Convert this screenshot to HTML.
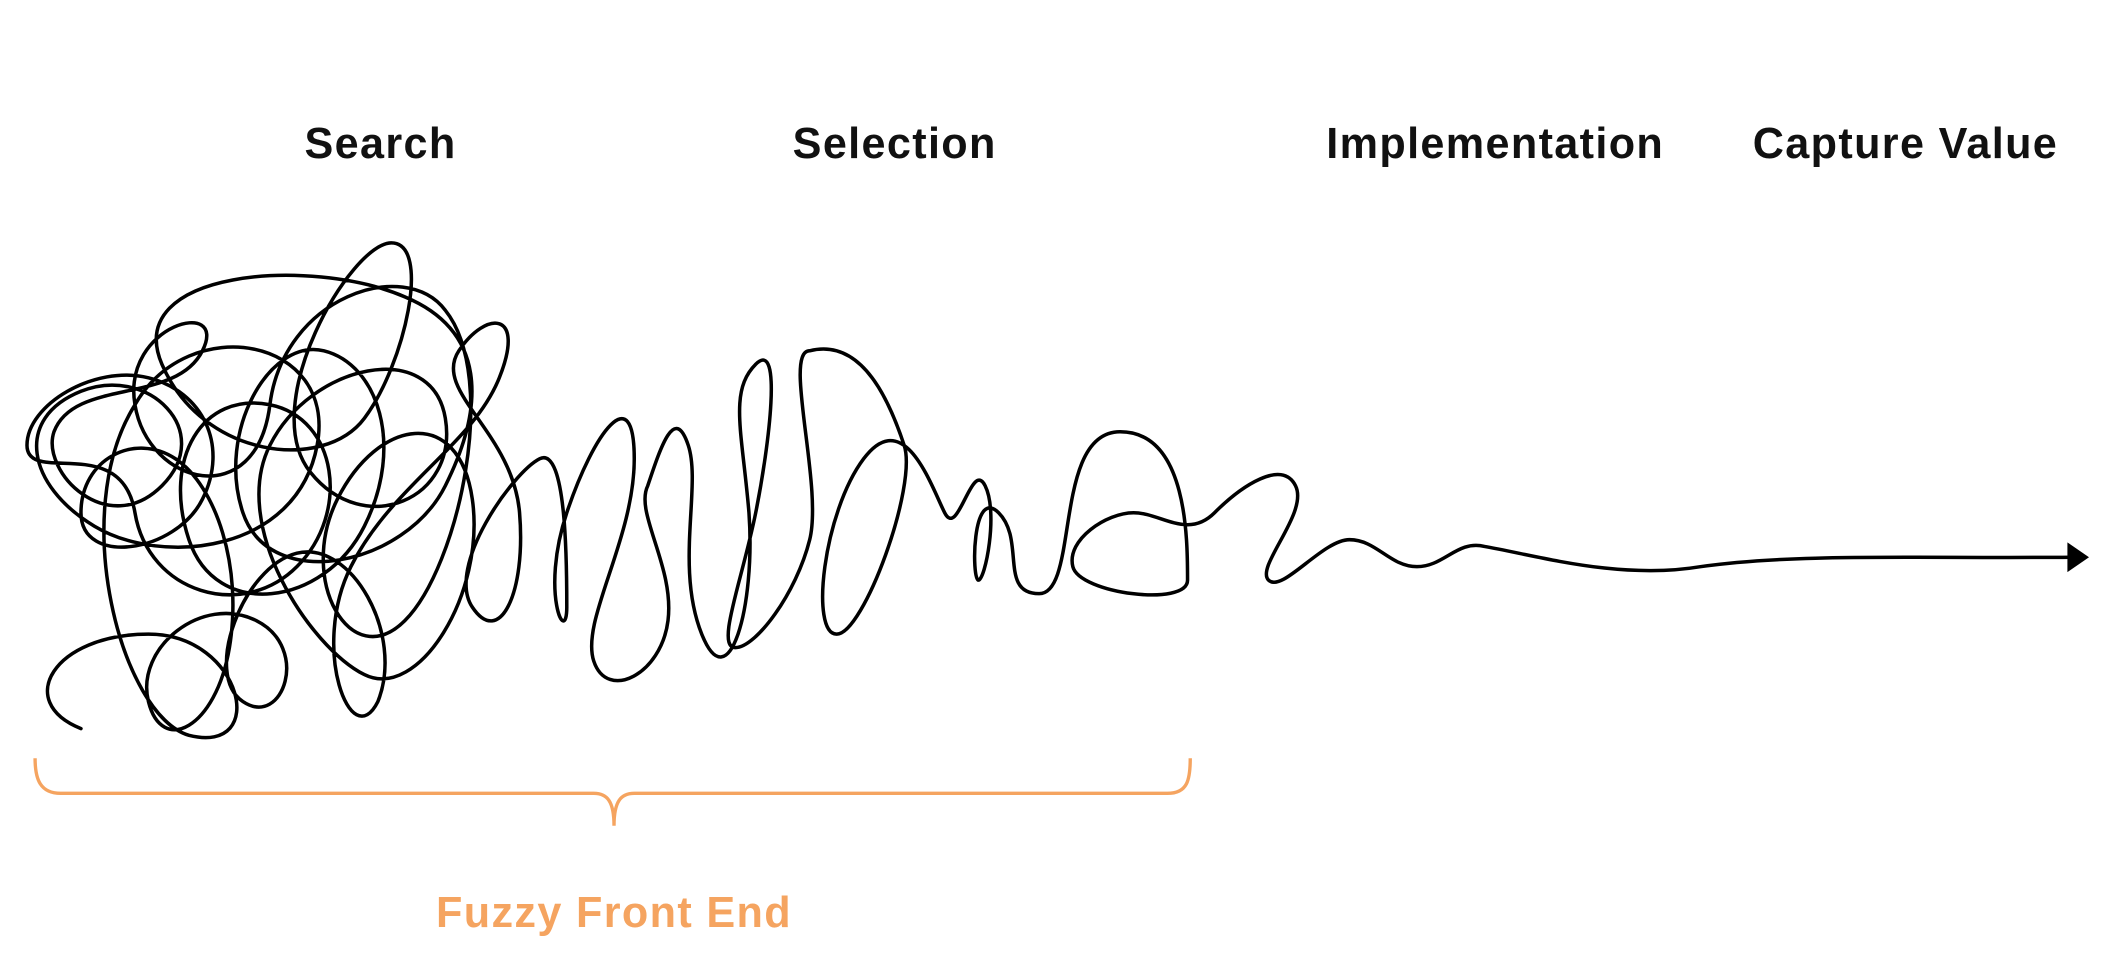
<!DOCTYPE html>
<html><head><meta charset="utf-8"><style>
html,body{margin:0;padding:0;background:#fff;}
body{width:2116px;height:962px;overflow:hidden;}
svg{display:block}
</style></head><body>
<svg width="2116" height="962" viewBox="0 0 1568 713" preserveAspectRatio="none">
<g font-family="Liberation Sans, sans-serif" font-weight="bold" font-size="32" letter-spacing="1" text-anchor="middle" fill="#111">
<text x="282" y="117">Search</text>
<text x="663" y="117">Selection</text>
<text x="1108" y="117">Implementation</text>
<text x="1412" y="117">Capture Value</text>
</g>
<path fill="none" stroke="#000" stroke-width="2.6" stroke-linejoin="round" stroke-linecap="round" d="
M60,540 C10,520 40,470 110,470 C180,470 200,560 140,545 C90,530 50,380 100,300
C140,230 250,250 235,330 C220,410 120,420 70,390 C20,360 10,310 60,290
C110,270 160,320 120,360 C80,400 30,350 40,320 C55,280 130,300 150,260
C170,220 90,240 100,300 C110,360 190,380 200,300 C210,220 300,190 330,230
C370,280 340,420 300,460 C260,500 220,430 250,370 C280,310 340,300 350,370
C360,440 310,520 270,500 C230,480 170,390 200,330 C230,270 320,250 330,310
C340,370 270,400 230,350 C190,300 260,180 290,180 C320,180 300,270 270,310
C240,350 150,340 120,270 C90,200 230,190 300,220 C360,245 360,300 330,360
C300,420 200,440 180,380 C160,320 200,250 240,260 C280,270 300,330 270,390
C240,450 160,460 140,400 C120,340 150,290 200,300 C250,310 260,380 220,420
C180,460 110,440 100,380 C90,320 20,360 20,330 C20,300 70,270 110,280
C150,290 170,330 150,370 C130,410 60,420 60,380 C60,340 100,320 130,340
C160,360 180,420 170,480 C160,540 120,560 110,520 C100,480 150,440 190,460
C230,480 210,540 180,520 C150,500 180,420 220,410 C260,400 300,470 280,520
C260,560 230,480 260,420 C290,360 350,330 370,280 C390,230 360,230 340,260
C320,290 380,320 385,380 C390,440 370,480 350,450 C330,420 380,350 400,340
C420,330 420,420 420,450 C420,480 400,440 420,380 C440,320 470,280 470,340
C470,400 430,460 440,490 C450,520 490,500 495,460 C500,420 470,380 480,360
C490,330 500,300 510,330 C520,360 500,420 520,470 C540,520 560,450 555,380
C550,320 540,290 560,270 C580,250 570,330 560,380 C550,430 530,480 545,480
C560,480 590,440 600,400 C610,360 580,260 600,260 C640,250 660,300 670,330
C680,360 640,470 620,470 C600,470 610,380 640,340 C670,300 690,360 700,380
C710,400 720,340 730,360 C740,380 730,430 725,430 C720,430 720,360 740,380
C760,400 740,440 770,440 C800,440 780,320 830,320 C880,320 880,400 880,430
C880,450 800,440 795,420 C790,400 820,380 840,380 C860,380 880,400 900,380
C920,360 950,340 960,360 C970,380 930,420 940,430 C950,440 980,400 1000,400
C1020,400 1030,420 1050,420 C1070,420 1080,400 1100,405 C1140,412 1200,430 1260,420
C1330,410 1420,414 1535,413"/>
<polygon points="1532,402 1548,413 1532,424" fill="#000"/>
<path fill="none" stroke="#F5A460" stroke-width="2.5" d="M26,562 C26,578 30,588 45,588 L440,588 C450,588 455,594 455,612 C455,594 460,588 470,588 L865,588 C880,588 882,578 882,562"/>
<text x="455" y="687" font-family="Liberation Sans, sans-serif" font-weight="bold" font-size="32" letter-spacing="1" text-anchor="middle" fill="#F5A460">Fuzzy Front End</text>
</svg>
</body></html>
